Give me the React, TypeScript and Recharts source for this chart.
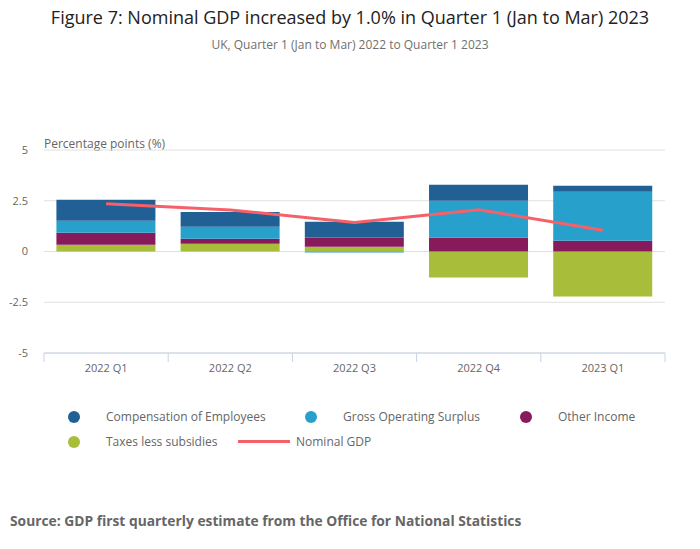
import { ComposedChart, Bar, Line, XAxis, YAxis, CartesianGrid } from 'recharts'

const quarters = ['2022 Q1', '2022 Q2', '2022 Q3', '2022 Q4', '2023 Q1']
const compensation = [1.04, 0.73, 0.78, 0.79, 0.3]
const grossSurplus = [0.59, 0.59, -0.05, 1.82, 2.41]
const otherIncome = [0.59, 0.25, 0.46, 0.68, 0.53]
const taxes = [0.33, 0.38, 0.23, -1.28, -2.22]
const nominalGdp = [2.35, 2.05, 1.43, 2.06, 1.05]
const yTicks = [-5, -2.5, 0, 2.5, 5]

const COLORS = {
  coe: '#206095',
  gos: '#27a0cc',
  other: '#871a5b',
  taxes: '#a8bd3a',
  gdp: '#f66068',
}

const FONT = '"Open Sans", sans-serif'

const data = quarters.map((q, i) => ({
  quarter: q,
  coe: compensation[i],
  gos: grossSurplus[i],
  other: otherIncome[i],
  taxes: taxes[i],
  gdp: nominalGdp[i],
}))

// category label plus boundary tick marks either side of the band
function QuarterTick(props: any) {
  const { x, y, payload, index, visibleTicksCount } = props
  const half = payload.offset || 62
  const last = index === visibleTicksCount - 1
  return (
    <g>
      <line x1={x - half} x2={x - half} y1={y} y2={y + 9} stroke="#c6d4e6" />
      {last && <line x1={x + half} x2={x + half} y1={y} y2={y + 9} stroke="#c6d4e6" />}
      <text x={x} y={y + 19} textAnchor="middle" fill="#666" fontSize={11} fontFamily={FONT}>
        {payload.value}
      </text>
    </g>
  )
}

const legendItems = [
  { label: 'Compensation of Employees', color: COLORS.coe, x: 68, y: 408 },
  { label: 'Gross Operating Surplus', color: COLORS.gos, x: 305, y: 408 },
  { label: 'Other Income', color: COLORS.other, x: 520, y: 408 },
  { label: 'Taxes less subsidies', color: COLORS.taxes, x: 68, y: 433 },
]

export default function App() {
  return (
    <div style={{ position: 'absolute', left: 0, top: 0, width: 700, height: 549, background: '#fff', fontFamily: FONT }}>
      <div style={{ position: 'absolute', top: 5, left: 0, width: 700, textAlign: 'center', fontSize: 18, color: '#222' }}>
        Figure 7: Nominal GDP increased by 1.0% in Quarter 1 (Jan to Mar) 2023
      </div>
      <div style={{ position: 'absolute', top: 36, left: 0, width: 700, textAlign: 'center', fontSize: 12, color: '#707070' }}>
        UK, Quarter 1 (Jan to Mar) 2022 to Quarter 1 2023
      </div>
      <div style={{ position: 'absolute', top: 135, left: 44, fontSize: 12, color: '#666' }}>Percentage points (%)</div>

      <div style={{ position: 'absolute', top: 0, left: 0 }}>
        <ComposedChart
          width={700}
          height={390}
          data={data}
          stackOffset="sign"
          barCategoryGap="10%"
          margin={{ top: 150, right: 35, bottom: 7, left: 0 }}
        >
          <CartesianGrid vertical={false} stroke="#e0e0e0" />
          <XAxis
            dataKey="quarter"
            height={30}
            tickLine={false}
            tickSize={0}
            tickMargin={0}
            axisLine={{ stroke: '#c6d4e6' }}
            tick={<QuarterTick />}
            interval={0}
          />
          <YAxis
            width={44}
            domain={[-5, 5]}
            ticks={yTicks}
            axisLine={false}
            tickLine={false}
            tickMargin={10}
            tick={{ fill: '#666', fontSize: 11, fontFamily: FONT }}
          />
          <Bar dataKey="taxes" stackId="a" fill={COLORS.taxes} isAnimationActive={false} />
          <Bar dataKey="other" stackId="a" fill={COLORS.other} isAnimationActive={false} />
          <Bar dataKey="gos" stackId="a" fill={COLORS.gos} isAnimationActive={false} />
          <Bar dataKey="coe" stackId="a" fill={COLORS.coe} isAnimationActive={false} />
          <Line dataKey="gdp" stroke={COLORS.gdp} strokeWidth={3} dot={false} isAnimationActive={false} />
        </ComposedChart>
      </div>

      {legendItems.map((item) => (
        <div key={item.label} style={{ position: 'absolute', left: item.x, top: item.y, display: 'flex', alignItems: 'center', fontSize: 12, color: '#666' }}>
          <span style={{ width: 12, height: 12, borderRadius: 6, background: item.color, marginRight: 26 }} />
          <span>{item.label}</span>
        </div>
      ))}
      <div style={{ position: 'absolute', left: 238, top: 433, display: 'flex', alignItems: 'center', fontSize: 12, color: '#666' }}>
        <span style={{ width: 52, height: 3, background: COLORS.gdp, marginRight: 6 }} />
        <span>Nominal GDP</span>
      </div>

      <div style={{ position: 'absolute', left: 10, top: 511, fontSize: 13.8, fontWeight: 700, color: '#666' }}>
        Source: GDP first quarterly estimate from the Office for National Statistics
      </div>
    </div>
  )
}
